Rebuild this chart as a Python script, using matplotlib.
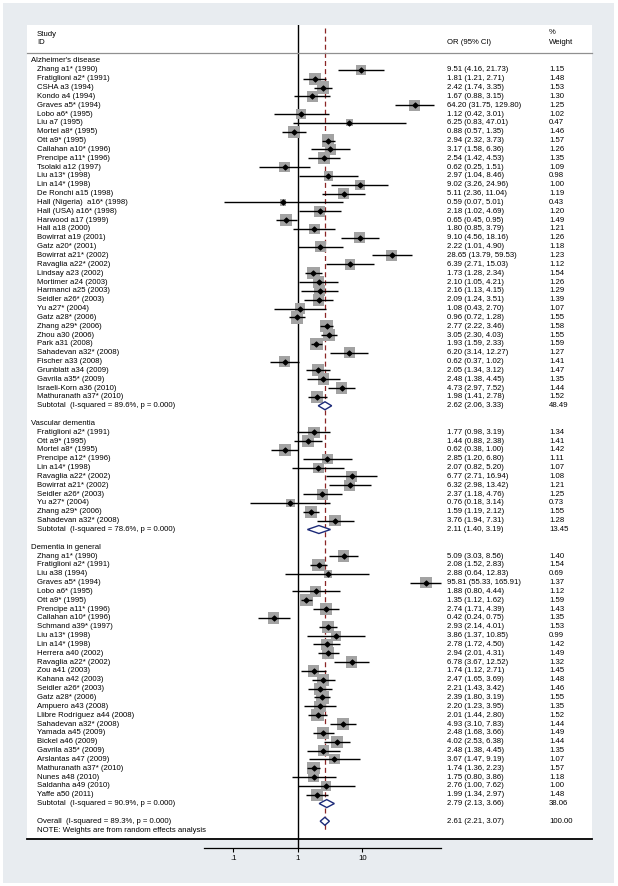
import numpy as np
import matplotlib.pyplot as plt
import matplotlib.transforms as mtransforms
from matplotlib.patches import Rectangle, Polygon

plt.rcParams['font.family'] = ['Liberation Sans', 'DejaVu Sans']

# Alzheimer's disease
ad_names = ["Zhang a1* (1990)", "Fratiglioni a2* (1991)", "CSHA a3 (1994)", "Kondo a4 (1994)",
            "Graves a5* (1994)", "Lobo a6* (1995)", "Liu a7 (1995)", "Mortel a8* (1995)",
            "Ott a9* (1995)", "Callahan a10* (1996)", "Prencipe a11* (1996)", "Tsolaki a12 (1997)",
            "Liu a13* (1998)", "Lin a14* (1998)", "De Ronchi a15 (1998)", "Hall (Nigeria)  a16* (1998)",
            "Hall (USA) a16* (1998)", "Harwood a17 (1999)", "Hall a18 (2000)", "Bowirrat a19 (2001)",
            "Gatz a20* (2001)", "Bowirrat a21* (2002)", "Ravaglia a22* (2002)", "Lindsay a23 (2002)",
            "Mortimer a24 (2003)", "Harmanci a25 (2003)", "Seidler a26* (2003)", "Yu a27* (2004)",
            "Gatz a28* (2006)", "Zhang a29* (2006)", "Zhou a30 (2006)", "Park a31 (2008)",
            "Sahadevan a32* (2008)", "Fischer a33 (2008)", "Grunblatt a34 (2009)", "Gavrila a35* (2009)",
            "Israeli-Korn a36 (2010)", "Mathuranath a37* (2010)"]
ad_or = [9.51, 1.81, 2.42, 1.67, 64.20, 1.12, 6.25, 0.88, 2.94, 3.17, 2.54, 0.62, 2.97, 9.02,
         5.11, 0.59, 2.18, 0.65, 1.80, 9.10, 2.22, 28.65, 6.39, 1.73, 2.10, 2.16, 2.09, 1.08,
         0.96, 2.77, 3.05, 1.93, 6.20, 0.62, 2.05, 2.48, 4.73, 1.98]
ad_lo = [4.16, 1.21, 1.74, 0.88, 31.75, 0.42, 0.83, 0.57, 2.32, 1.58, 1.42, 0.25, 1.04, 3.26,
         2.36, 0.07, 1.02, 0.45, 0.85, 4.56, 1.01, 13.79, 2.71, 1.28, 1.05, 1.13, 1.24, 0.43,
         0.72, 2.22, 2.30, 1.59, 3.14, 0.37, 1.34, 1.38, 2.97, 1.41]
ad_hi = [21.73, 2.71, 3.35, 3.15, 129.80, 3.01, 47.01, 1.35, 3.73, 6.36, 4.53, 1.51, 8.46, 24.96,
         11.04, 5.01, 4.69, 0.95, 3.79, 18.16, 4.90, 59.53, 15.03, 2.34, 4.21, 4.15, 3.51, 2.70,
         1.28, 3.46, 4.03, 2.33, 12.27, 1.02, 3.12, 4.45, 7.52, 2.78]
ad_w = [1.15, 1.48, 1.53, 1.30, 1.25, 1.02, 0.47, 1.46, 1.57, 1.26, 1.35, 1.09, 0.98, 1.00,
        1.19, 0.43, 1.20, 1.49, 1.21, 1.26, 1.18, 1.23, 1.12, 1.54, 1.26, 1.29, 1.39, 1.07,
        1.55, 1.58, 1.55, 1.59, 1.27, 1.41, 1.47, 1.35, 1.44, 1.52]

# Vascular dementia
vd_names = ["Fratiglioni a2* (1991)", "Ott a9* (1995)", "Mortel a8* (1995)", "Prencipe a12* (1996)",
            "Lin a14* (1998)", "Ravaglia a22* (2002)", "Bowirrat a21* (2002)", "Seidler a26* (2003)",
            "Yu a27* (2004)", "Zhang a29* (2006)", "Sahadevan a32* (2008)"]
vd_or = [1.77, 1.44, 0.62, 2.85, 2.07, 6.77, 6.32, 2.37, 0.76, 1.59, 3.76]
vd_lo = [0.98, 0.88, 0.38, 1.20, 0.82, 2.71, 2.98, 1.18, 0.18, 1.19, 1.94]
vd_hi = [3.19, 2.38, 1.00, 6.80, 5.20, 16.94, 13.42, 4.76, 3.14, 2.12, 7.31]
vd_w = [1.34, 1.41, 1.42, 1.11, 1.07, 1.08, 1.21, 1.25, 0.73, 1.55, 1.28]

# Dementia in general
dg_names = ["Zhang a1* (1990)", "Fratiglioni a2* (1991)", "Liu a38 (1994)", "Graves a5* (1994)",
            "Lobo a6* (1995)", "Ott a9* (1995)", "Prencipe a11* (1996)", "Callahan a10* (1996)",
            "Schmand a39* (1997)", "Liu a13* (1998)", "Lin a14* (1998)", "Herrera a40 (2002)",
            "Ravaglia a22* (2002)", "Zou a41 (2003)", "Kahana a42 (2003)", "Seidler a26* (2003)",
            "Gatz a28* (2006)", "Ampuero a43 (2008)", "Llibre Rodríguez a44 (2008)",
            "Sahadevan a32* (2008)", "Yamada a45 (2009)", "Bickel a46 (2009)", "Gavrila a35* (2009)",
            "Arslantas a47 (2009)", "Mathuranath a37* (2010)", "Nunes a48 (2010)",
            "Saldanha a49 (2010)", "Yaffe a50 (2011)"]
dg_or = [5.09, 2.08, 2.88, 95.81, 1.88, 1.35, 2.74, 0.42, 2.93, 3.86, 2.78, 2.94, 6.78, 1.74,
         2.47, 2.21, 2.39, 2.20, 2.01, 4.93, 2.48, 4.02, 2.48, 3.67, 1.74, 1.75, 2.76, 1.99]
dg_lo = [3.03, 1.52, 0.64, 55.33, 0.80, 1.12, 1.71, 0.24, 2.14, 1.37, 1.72, 2.01, 3.67, 1.12,
         1.65, 1.43, 1.80, 1.23, 1.44, 3.10, 1.68, 2.53, 1.38, 1.47, 1.36, 0.80, 1.00, 1.34]
dg_hi = [8.56, 2.83, 12.83, 165.91, 4.44, 1.62, 4.39, 0.75, 4.01, 10.85, 4.50, 4.31, 12.52, 2.71,
         3.69, 3.42, 3.19, 3.95, 2.80, 7.83, 3.66, 6.38, 4.45, 9.19, 2.23, 3.86, 7.62, 2.97]
dg_w = [1.40, 1.54, 0.69, 1.37, 1.12, 1.59, 1.43, 1.35, 1.53, 0.99, 1.42, 1.49, 1.32, 1.45,
        1.48, 1.46, 1.55, 1.35, 1.52, 1.44, 1.49, 1.44, 1.35, 1.07, 1.57, 1.18, 1.00, 1.48]

groups = ["Alzheimer's disease", "Vascular dementia", "Dementia in general"]
sub_labels = ["Subtotal  (I-squared = 89.6%, p = 0.000)",
              "Subtotal  (I-squared = 78.6%, p = 0.000)",
              "Subtotal  (I-squared = 90.9%, p = 0.000)"]
sub_or = [2.62, 2.11, 2.79]
sub_lo = [2.06, 1.40, 2.13]
sub_hi = [3.33, 3.19, 3.66]
sub_w = [48.49, 13.45, 38.06]

overall_label = "Overall  (I-squared = 89.3%, p = 0.000)"
overall_or, overall_lo, overall_hi = 2.61, 2.21, 3.07

tick_vals = [0.1, 1, 10]
tick_labels = [".1", "1", "10"]

W, H = 618, 886
fig = plt.figure(figsize=(W / 100, H / 100), dpi=100, facecolor='white')

# background frame and white panel (pixel coords)
bg = fig.add_axes([0, 0, 1, 1])
bg.set_xlim(0, W)
bg.set_ylim(H, 0)
bg.axis('off')
bg.add_patch(Rectangle((3, 3), 611, 880, facecolor='#e8ecf0', edgecolor='none'))
bg.add_patch(Rectangle((27, 25), 565, 815, facecolor='white', edgecolor='none'))

# forest axes: x in log OR, y in rows
px_one, px_dec = 298, 64.5
ax_l, ax_r, ax_t, ax_b = 27, 592, 25, 848
row0, row_h = 61, 8.84
ax = fig.add_axes([ax_l / W, 1 - ax_b / H, (ax_r - ax_l) / W, (ax_b - ax_t) / H])
ax.set_facecolor('none')
ax.set_xscale('log')
ax.set_xlim(10 ** ((ax_l - px_one) / px_dec), 10 ** ((ax_r - px_one) / px_dec))
ax.set_ylim((ax_b - row0) / row_h, (ax_t - row0) / row_h)
for s in ['top', 'left', 'right']:
    ax.spines[s].set_visible(False)
ax.set_yticks([])
ax.minorticks_off()
ax.set_xticks(tick_vals)
ax.set_xticklabels(tick_labels, fontsize=5.6)
ax.tick_params(axis='x', length=3, width=0.8, pad=2)
all_hi = ad_hi + vd_hi + dg_hi
ax.spines['bottom'].set_bounds(0.035, max(all_hi))
ax.spines['bottom'].set_linewidth(0.9)

tr = mtransforms.blended_transform_factory(ax.transAxes, ax.transData)
def fx(px):
    return (px - ax_l) / (ax_r - ax_l)

fs = 5.6
x_grp, x_study, x_or, x_wt = fx(31), fx(37), fx(447), fx(549)

# header
ax.text(x_study, (34 - row0) / row_h, "Study", transform=tr, fontsize=fs, va='center')
ax.text(x_study, (43 - row0) / row_h, "ID", transform=tr, fontsize=fs, va='center')
ax.text(x_or, (43 - row0) / row_h, "OR (95% CI)", transform=tr, fontsize=fs, va='center')
ax.text(x_wt, (32 - row0) / row_h, "%", transform=tr, fontsize=fs, va='center')
ax.text(x_wt, (43 - row0) / row_h, "Weight", transform=tr, fontsize=fs, va='center')
ax.plot([0, 1], [(53 - row0) / row_h] * 2, transform=tr, color='#909090', lw=0.9, clip_on=False)

ax.axvline(1, color='black', lw=1.0, zorder=1)
ax.vlines(overall_or, (28 - row0) / row_h, (831 - row0) / row_h, color='#8b2525', lw=0.9,
          linestyles=(0, (4, 2.5)), zorder=1)

def side_pt(w):
    return 12.5 * np.sqrt(w / 1.59) * 0.72

def diamond(est, lo, hi, r):
    ax.add_patch(Polygon([(lo, r), (est, r - 0.45), (hi, r), (est, r + 0.45)], closed=True,
                         facecolor='white', edgecolor='#1c2a78', lw=1.0, zorder=5))

group_data = [(ad_names, ad_or, ad_lo, ad_hi, ad_w),
              (vd_names, vd_or, vd_lo, vd_hi, vd_w),
              (dg_names, dg_or, dg_lo, dg_hi, dg_w)]

r = 0
for g, (names, ors, los, his, ws) in enumerate(group_data):
    ax.text(x_grp, r, groups[g], transform=tr, fontsize=fs, va='center')
    r += 1
    rows = np.arange(r, r + len(names))
    ax.scatter(ors, rows, marker='s', s=[side_pt(w) ** 2 for w in ws], color='#a3a3a3',
               edgecolors='none', zorder=2)
    ax.hlines(rows, los, his, color='black', lw=1.0, zorder=3)
    ax.scatter(ors, rows, marker='D', s=6, color='black', zorder=4)
    for i, nm in enumerate(names):
        ax.text(x_study, rows[i], nm, transform=tr, fontsize=fs, va='center')
        ax.text(x_or, rows[i], f"{ors[i]:.2f} ({los[i]:.2f}, {his[i]:.2f})", transform=tr,
                fontsize=fs, va='center')
        ax.text(x_wt, rows[i], f"{ws[i]:.2f}", transform=tr, fontsize=fs, va='center')
    r += len(names)
    diamond(sub_or[g], sub_lo[g], sub_hi[g], r)
    ax.text(x_study, r, sub_labels[g], transform=tr, fontsize=fs, va='center')
    ax.text(x_or, r, f"{sub_or[g]:.2f} ({sub_lo[g]:.2f}, {sub_hi[g]:.2f})", transform=tr,
            fontsize=fs, va='center')
    ax.text(x_wt, r, f"{sub_w[g]:.2f}", transform=tr, fontsize=fs, va='center')
    r += 2

diamond(overall_or, overall_lo, overall_hi, r)
ax.text(x_study, r, overall_label, transform=tr, fontsize=fs, va='center')
ax.text(x_or, r, f"{overall_or:.2f} ({overall_lo:.2f}, {overall_hi:.2f})", transform=tr,
        fontsize=fs, va='center')
ax.text(x_wt, r, "100.00", transform=tr, fontsize=fs, va='center')
r += 1
ax.text(x_study, r, "NOTE: Weights are from random effects analysis", transform=tr,
        fontsize=fs, va='center')
ax.plot([0, 1], [(839 - row0) / row_h] * 2, transform=tr, color='black', lw=1.3, clip_on=False)

fig.savefig("out.png", dpi=100, facecolor=fig.get_facecolor())
